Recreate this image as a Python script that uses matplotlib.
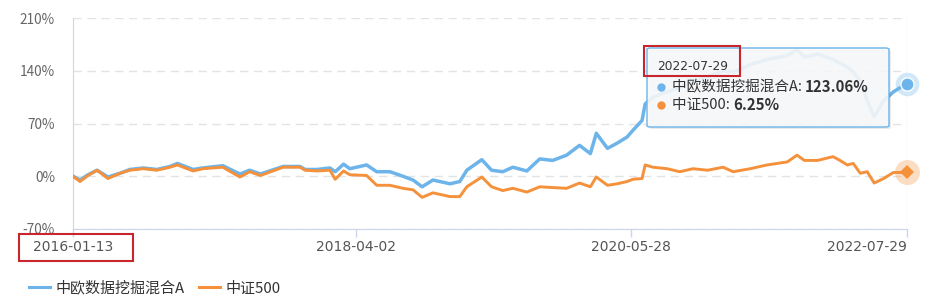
#!/usr/bin/env python3

import pandas as pd
import matplotlib
matplotlib.use("Agg")
import matplotlib.pyplot as plt
from matplotlib.patches import Rectangle, FancyBboxPatch
from matplotlib.lines import Line2D

plt.rcParams['font.family'] = ['Noto Sans CJK SC', 'DejaVu Sans']

# cumulative return (%)
dates = [
    "2016-01-13", "2016-02-02", "2016-02-25", "2016-03-22", "2016-04-22", "2016-05-27",
    "2016-06-24", "2016-08-01", "2016-09-09", "2016-10-17", "2016-11-07", "2016-12-22",
    "2017-01-19", "2017-03-17", "2017-05-05", "2017-06-02", "2017-07-03", "2017-09-06",
    "2017-10-24", "2017-11-08", "2017-12-12", "2018-01-18", "2018-02-02", "2018-02-26",
    "2018-03-16", "2018-05-03", "2018-06-01", "2018-07-09", "2018-08-15", "2018-09-13",
    "2018-10-09", "2018-11-09", "2018-12-28", "2019-01-25", "2019-02-14", "2019-03-29",
    "2019-04-26", "2019-05-28", "2019-06-26", "2019-08-05", "2019-09-11", "2019-10-18",
    "2019-11-27", "2020-01-03", "2020-02-03", "2020-02-20", "2020-03-23", "2020-04-20",
    "2020-05-18", "2020-06-04", "2020-06-30", "2020-07-09", "2020-07-31", "2020-09-10",
    "2020-10-16", "2020-11-23", "2021-01-04", "2021-02-17", "2021-03-18", "2021-05-06",
    "2021-06-23", "2021-08-20", "2021-09-17", "2021-10-08", "2021-11-15", "2021-12-29",
    "2022-01-18", "2022-02-08", "2022-02-25", "2022-03-17", "2022-04-06", "2022-04-26",
    "2022-05-23", "2022-06-20", "2022-07-11", "2022-07-29",
]
fund = [
    0, -5, 2, 8, -1, 4,
    9, 11, 9, 13, 17, 9,
    11, 14, 3, 8, 3, 13,
    13, 9, 9, 11, 6, 16,
    10, 15, 6, 6, 0, -5,
    -14, -5, -10, -7, 8, 22,
    8, 6, 12, 7, 23, 21,
    28, 41, 30, 57, 37, 44,
    52, 61, 74, 96, 105, 112,
    118, 125, 132, 140, 138, 148,
    155, 160, 168, 158, 162, 155,
    150, 145, 138, 127, 100, 79,
    100, 112, 118, 123.06,
]
csi500 = [
    0, -7, 1, 8, -3, 4,
    8, 10, 8, 12, 15, 7,
    10, 12, -1, 6, 1, 12,
    12, 8, 7, 8, -4, 7,
    2, 1, -12, -12, -16, -18,
    -28, -22, -27, -27, -14, -1,
    -14, -19, -16, -21, -14, -15,
    -16, -9, -14, -1, -12, -10,
    -7, -4, -3, 15, 12, 10,
    6, 10, 8, 12, 6, 10,
    15, 19, 28, 21, 21, 26,
    21, 15, 17, 4, 6, -9,
    -3, 5, 5, 6.25,
]

fund_name = "中欧数据挖掘混合A"
index_name = "中证500"
tick_dates = ["2016-01-13", "2018-04-02", "2020-05-28", "2022-07-29"]
y_ticks = [-70, 0, 70, 140, 210]

BLUE = "#6cb4ea"
ORANGE = "#f5913a"
W, H = 929, 303


def px(x, y):
    return x / W, 1 - y / H


def main():
    x = pd.to_datetime(dates)
    fig = plt.figure(figsize=(W / 100, H / 100), dpi=100)
    ax = fig.add_axes([73 / W, 1 - 229 / H, (907 - 73) / W, (229 - 18) / H])

    ax.plot(x, fund, color=BLUE, lw=2.5, zorder=3, solid_joinstyle='round')
    ax.plot(x, csi500, color=ORANGE, lw=2.1, zorder=4, solid_joinstyle='round')

    ax.axvline(x[-1], color='#eeeeee', lw=1, zorder=1)

    # end markers with halo
    ax.plot(x[-1], fund[-1], 'o', ms=17, color=BLUE, alpha=0.3, mew=0, clip_on=False, zorder=6)
    ax.plot(x[-1], fund[-1], 'o', ms=9.5, color=BLUE, mec='white', mew=1, clip_on=False, zorder=7)
    ax.plot(x[-1], csi500[-1], 'o', ms=18, color=ORANGE, alpha=0.3, mew=0, clip_on=False, zorder=6)
    ax.plot(x[-1], csi500[-1], 'D', ms=7, color=ORANGE, mew=0, clip_on=False, zorder=7)

    ax.set_xlim(x[0], x[-1])
    ax.set_ylim(-70, 210)
    ax.set_yticks(y_ticks)
    ax.set_yticklabels([f"{v}%" for v in y_ticks])
    ax.yaxis.grid(True, ls=(0, (6, 4)), color='#e3e3e3', lw=1)
    ax.set_axisbelow(True)
    ax.tick_params(axis='y', length=0, pad=13, labelsize=9.8, labelcolor='#666666')

    xt = pd.to_datetime(tick_dates)
    ax.set_xticks(xt)
    ax.set_xticklabels(tick_dates)
    ax.tick_params(axis='x', length=6, width=1, color='#ccd6eb', pad=2,
                   labelsize=10, labelcolor='#555555')
    for lab in ax.get_xticklabels():
        lab.set_family('DejaVu Sans')
    ax.get_xticklabels()[-1].set_ha('right')

    for s in ['top', 'right']:
        ax.spines[s].set_visible(False)
    ax.spines['left'].set_color('#ccd6eb')
    ax.spines['bottom'].set_color('#ccd6eb')

    # red highlight on first date label
    x0, y0 = px(19, 261)
    fig.add_artist(Rectangle((x0, y0), 114 / W, 27 / H, transform=fig.transFigure,
                             fill=False, edgecolor='#c9252d', lw=1.5, zorder=10))

    # tooltip
    sx, sy = px(649, 129)
    fig.add_artist(FancyBboxPatch((sx, sy), 242 / W, 79 / H, transform=fig.transFigure,
                                  boxstyle='round,pad=0,rounding_size=0.004',
                                  facecolor='#000000', alpha=0.08, lw=0, zorder=10))
    bx, by = px(647, 127)
    fig.add_artist(FancyBboxPatch((bx, by), 242 / W, 79 / H, transform=fig.transFigure,
                                  boxstyle='round,pad=0,rounding_size=0.004',
                                  facecolor=(0.97, 0.975, 0.98, 0.9), edgecolor=BLUE,
                                  lw=1, zorder=11))
    rx, ry = px(644, 76)
    fig.add_artist(Rectangle((rx, ry), 96 / W, 30 / H, transform=fig.transFigure,
                             fill=False, edgecolor='#c9252d', lw=1.5, zorder=13))
    tx, ty = px(657, 66)
    fig.text(tx, ty, "2022-07-29", family='DejaVu Sans', fontsize=8.8, color='#333333',
             va='center', ha='left', zorder=12)

    rows = [(fund_name, fund[-1], BLUE, 87), (index_name, csi500[-1], ORANGE, 105)]
    fig.canvas.draw()
    renderer = fig.canvas.get_renderer()
    for name, val, col, yy in rows:
        dx, dy = px(661, yy)
        fig.add_artist(Line2D([dx], [dy], marker='o', ms=6, color=col, mew=0,
                              transform=fig.transFigure, zorder=12))
        lx, ly = px(672, yy)
        t = fig.text(lx, ly, f"{name}: ", fontsize=10.5, color='#333333',
                     va='center', ha='left', zorder=12)
        bb = t.get_window_extent(renderer)
        fig.text(bb.x1 / W, ly, f"{val:.2f}%", fontsize=10.8, fontweight='bold',
                 color='#333333', va='center', ha='left', zorder=12)

    # legend
    handles = [Line2D([], [], color=BLUE, lw=2.2), Line2D([], [], color=ORANGE, lw=2.2)]
    lx, ly = px(29, 288)
    fig.legend(handles, [fund_name, index_name], loc='center left', bbox_to_anchor=(lx, ly),
               ncol=2, frameon=False, fontsize=10.8, handlelength=1.4, handletextpad=0.35,
               columnspacing=1.0, borderpad=0, borderaxespad=0, labelcolor='#333333')

    fig.savefig("out.png", dpi=100)


if __name__ == "__main__":
    main()
